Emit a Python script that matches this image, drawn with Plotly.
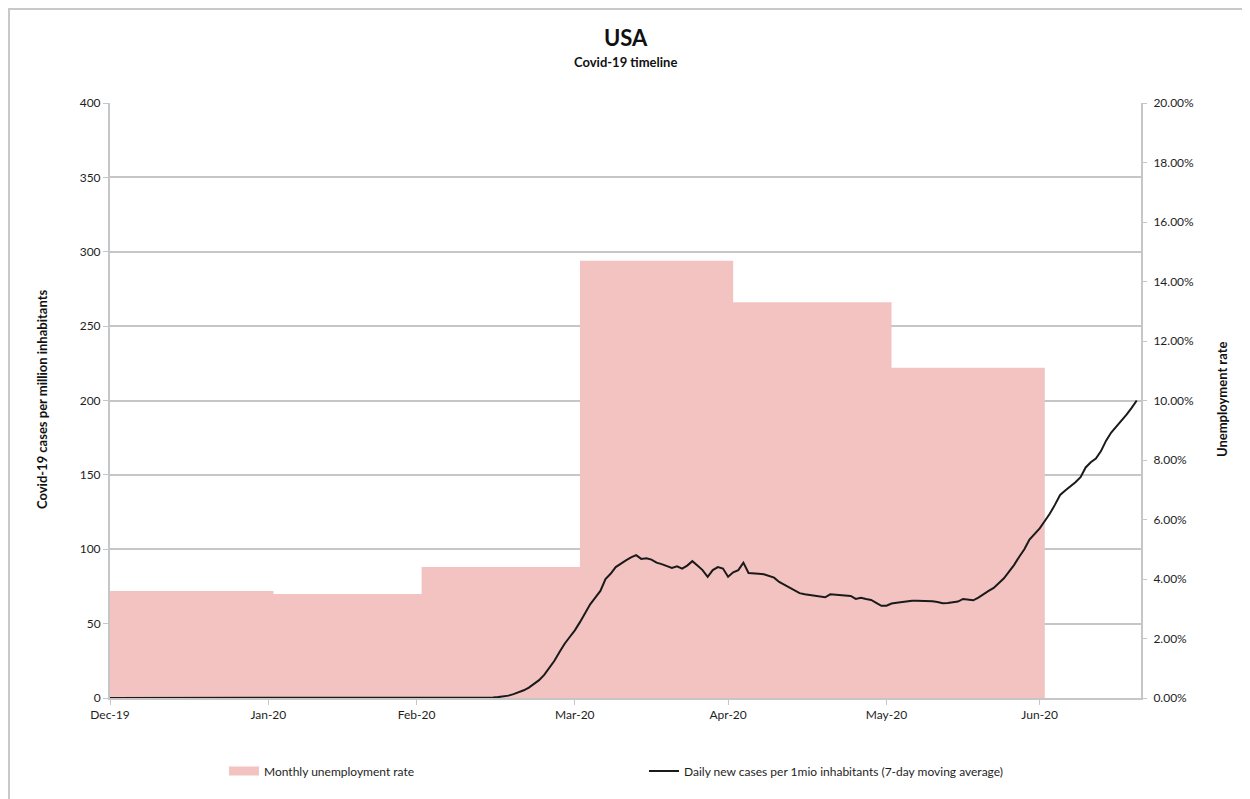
import pandas as pd
import plotly.graph_objects as go

# ---- data ----
# axis ticks sit on month-end dates, labelled with that month
month_ticks = ["2019-12-31", "2020-01-31", "2020-02-29", "2020-03-31",
               "2020-04-30", "2020-05-31", "2020-06-30"]
month_labels = ["Dec-19", "Jan-20", "Feb-20", "Mar-20", "Apr-20", "May-20", "Jun-20"]

# monthly unemployment rate (Jan–Jun 2020), period starts / end
unemp_start = ["2019-12-31", "2020-02-01", "2020-03-01", "2020-04-01", "2020-05-01", "2020-06-01"]
unemp_end = ["2020-02-01", "2020-03-01", "2020-04-01", "2020-05-01", "2020-06-01", "2020-07-01"]
unemp_rate = [0.036, 0.035, 0.044, 0.147, 0.133, 0.111]

# daily new cases per 1 mio inhabitants (7-day moving average), from 2019-12-31
cases_dec = [0]
cases_jan = [0, 0, 0, 0, 0, 0, 0, 0, 0, 0, 0, 0, 0, 0, 0, 0, 0, 0, 0, 0,
             0, 0, 0, 0, 0, 0, 0, 0, 0, 0, 0]
cases_feb = [0, 0, 0, 0, 0, 0, 0, 0, 0, 0, 0, 0, 0, 0, 0, 0, 0, 0, 0, 0,
             0, 0, 0, 0, 0, 0, 0, 0, 0]
cases_mar = [0, 0, 0, 0, 0, 0, 0.2, 0.2, 0.2, 0.2, 0.2, 0.2, 0.2, 0.2, 0.4, 0.6,
             1.0, 1.6, 2.6, 3.8, 5.2, 7.0, 9.3, 12, 15.5, 20.5, 25, 31, 36.5, 41,
             45.5]
cases_apr = [51, 57, 63, 67.5, 72, 80, 83.5, 88, 90.5, 92.5, 94.5, 96, 93.5,
             94, 93, 91, 90, 88.5, 87.5, 88.5, 87, 89, 92, 89, 86, 81.5, 86, 88,
             87, 81.5]
cases_may = [84.5, 86, 91, 84, 83.5, 83.5, 83.2, 82, 80.9, 78, 76, 74, 72, 70.5,
             69.7, 69.2, 68.7, 68.2, 67.7, 69.7, 69.5, 69.4, 69, 68.6, 66.6, 67.4,
             66.5, 65.9, 64, 62, 62]
cases_jun = [63.5, 64, 64.5, 65, 65.4, 65.4, 65.3, 65.4, 65, 64.5, 63.7, 63.8,
             64.4, 64.8, 66.6, 66, 65.7, 67.5, 70, 72, 74, 77, 80.5, 85, 89.5, 95,
             100, 106.5, 110.5, 114]
cases_jul = [119, 124, 130, 136.5, 139.5, 142, 145, 148.5, 155, 158.5, 161, 166,
             173, 178.5, 182.5, 186, 190.5, 195, 200]

cases = (cases_dec + cases_jan + cases_feb + cases_mar + cases_apr
         + cases_may + cases_jun + cases_jul)
days = pd.date_range("2019-12-31", periods=len(cases), freq="D")

FONT = "Lato, 'Open Sans', Arial, sans-serif"
GRID = "#c6c6c6"
TXT = "#1e1e1e"
PINK = "#f3c3c2"

# step outline of the monthly periods
step_x = unemp_start + [unemp_end[-1]]
step_y = unemp_rate + [unemp_rate[-1]]

fig = go.Figure()
fig.add_trace(go.Scatter(
    x=step_x, y=step_y, mode="lines", line=dict(shape="hv", width=0, color=PINK),
    fill="tozeroy", fillcolor=PINK, yaxis="y", showlegend=False, hoverinfo="skip",
))
# legend entry for the unemployment area
fig.add_trace(go.Scatter(
    x=[None], y=[None], mode="lines", line=dict(color=PINK, width=9),
    name="Monthly unemployment rate", yaxis="y", legend="legend",
))
fig.add_trace(go.Scatter(
    x=days, y=cases, mode="lines",
    line=dict(color="#1a1a1a", width=2),
    name="Daily new cases per 1mio inhabitants (7-day moving average)",
    yaxis="y2", legend="legend2",
))

OFF = 8  # page offset of the figure
W, H = 1250 - OFF, 799 - OFF
L, R, T, B = 110 - OFF, W - (1141 - OFF), 103 - OFF, H - (698 - OFF)
pw, ph = W - L - R, H - T - B

def px(xpage):
    return (xpage - OFF - L) / pw

def py(ypage):
    return (H - B - (ypage - OFF)) / ph

fig.update_layout(
    width=W, height=H,
    margin=dict(l=L, r=R, t=T, b=B),
    paper_bgcolor="white", plot_bgcolor="white",
    font=dict(family=FONT, size=12, color=TXT),
    xaxis=dict(
        type="date",
        range=["2019-12-31", "2020-07-19 20:00"],
        tickvals=month_ticks, ticktext=month_labels,
        showgrid=False, showline=True, linecolor=GRID, linewidth=2,
        ticks="outside", ticklen=5, tickcolor=GRID, tickwidth=1,
        tickfont=dict(size=12, color=TXT), zeroline=False,
    ),
    yaxis=dict(
        side="right", range=[0, 0.2], dtick=0.02, tickformat=".2%",
        showgrid=False, showline=True, linecolor=GRID, linewidth=2,
        ticks="outside", ticklen=4, tickcolor=GRID, ticklabelstandoff=4,
        tickfont=dict(size=12, color=TXT), zeroline=False,
    ),
    yaxis2=dict(
        side="left", overlaying="y", range=[0, 400], dtick=50,
        showgrid=True, gridcolor=GRID, gridwidth=2,
        showline=True, linecolor=GRID, linewidth=2,
        ticks="outside", ticklen=5, tickcolor=GRID,
        tickfont=dict(size=12, color=TXT), zeroline=False,
    ),
    legend=dict(
        orientation="h", x=px(224), y=py(771), xanchor="left", yanchor="middle",
        font=dict(size=12, color=TXT), bgcolor="rgba(0,0,0,0)",
        itemwidth=30,
    ),
    legend2=dict(
        orientation="h", x=px(644), y=py(771), xanchor="left", yanchor="middle",
        font=dict(size=12, color=TXT), bgcolor="rgba(0,0,0,0)",
        itemwidth=30,
    ),
    showlegend=True,
    annotations=[
        dict(text="<b>USA</b>", x=0.5, y=py(38), xref="paper", yref="paper",
             showarrow=False, font=dict(size=22, color="#111"), yanchor="middle"),
        dict(text="<b>Covid-19 timeline</b>", x=0.5, y=py(62), xref="paper", yref="paper",
             showarrow=False, font=dict(size=13, color="#111"), yanchor="middle"),
        dict(text="<b>Covid-19 cases per million inhabitants</b>", x=px(42), y=py(400),
             xref="paper", yref="paper", showarrow=False, textangle=-90,
             font=dict(size=13, color="#111"), xanchor="center", yanchor="middle"),
        dict(text="<b>Unemployment rate</b>", x=px(1222), y=py(400),
             xref="paper", yref="paper", showarrow=False, textangle=-90,
             font=dict(size=13, color="#111"), xanchor="center", yanchor="middle"),
    ],
    shapes=[
        dict(type="rect", xref="paper", yref="paper",
             x0=px(9), x1=px(1262), y0=py(812), y1=py(9),
             line=dict(color="#c8c8c8", width=2), fillcolor="rgba(0,0,0,0)",
             layer="below"),
    ],
)

fig.write_html("out.html")
